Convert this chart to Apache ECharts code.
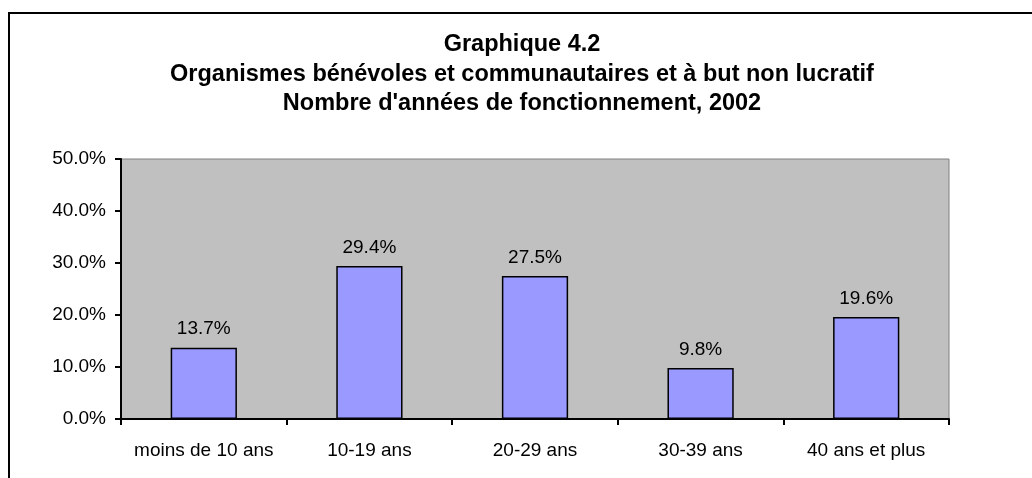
<!DOCTYPE html>
<html><head><meta charset="utf-8">
<script src="https://cdn.jsdelivr.net/npm/echarts@6/dist/echarts.min.js"></script>
<style>html,body{margin:0;padding:0;background:#fff}#c{width:1032px;height:478px}</style>
</head><body><div id="c"></div>
<script>
const categories = ['moins de 10 ans', '10-19 ans', '20-29 ans', '30-39 ans', '40 ans et plus'];
const values = [0.137, 0.294, 0.275, 0.098, 0.196];
const titleLines = ['Graphique 4.2', 'Organismes bénévoles et communautaires et à but non lucratif', "Nombre d'années de fonctionnement, 2002"];
const yTicks = { min: 0, max: 0.5, interval: 0.1 };

const chart = echarts.init(document.getElementById('c'));
const font = 'Liberation Sans, Arial, sans-serif';
chart.setOption({
  animation: false,
  title: {
    text: titleLines.join('\n'),
    left: 517, top: 25, textAlign: 'center',
    textStyle: { fontFamily: font, fontWeight: 'bold', fontSize: 23.5, lineHeight: 29.5, color: '#000' }
  },
  graphic: [{
    type: 'rect', shape: { x: 9, y: 13, width: 1030, height: 500 },
    style: { fill: 'none', stroke: '#000', lineWidth: 2 }, silent: true, z: -1
  }],
  grid: { left: 121, right: 83, top: 159, bottom: 59, show: true, backgroundColor: '#C0C0C0', borderColor: '#808080', borderWidth: 1 },
  xAxis: {
    type: 'category', data: categories,
    axisLine: { lineStyle: { color: '#000', width: 2 } },
    axisTick: { show: true, interval: 0, length: 6, alignWithLabel: false, lineStyle: { color: '#000', width: 2 } },
    axisLabel: { interval: 0, fontFamily: font, fontSize: 19, color: '#000', margin: 22 }
  },
  yAxis: {
    type: 'value', min: yTicks.min, max: yTicks.max, interval: yTicks.interval,
    axisLine: { show: true, lineStyle: { color: '#000', width: 2 } },
    axisTick: { show: true, length: 6, lineStyle: { color: '#000', width: 2 } },
    splitLine: { show: false },
    axisLabel: { fontFamily: font, fontSize: 19, color: '#000', margin: 15, padding: [6, 0, 0, 0], formatter: v => (v * 100).toFixed(1) + '%' }
  },
  series: [{
    type: 'bar', data: values, barWidth: '40%',
    itemStyle: { color: '#9999FF', borderColor: '#000', borderWidth: 1.5 },
    label: { show: true, position: 'top', distance: 9, fontFamily: font, fontSize: 19, color: '#000', formatter: p => (p.value * 100).toFixed(1) + '%' }
  }]
});
</script></body></html>
